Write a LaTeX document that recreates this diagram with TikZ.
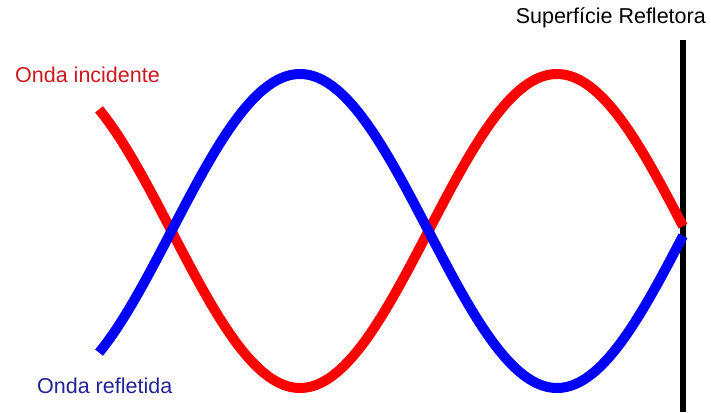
\documentclass[tikz,border=0pt]{standalone}
\usepackage{fontspec}
\setmainfont{Liberation Sans}

\definecolor{incred}{RGB}{205,25,30}
\definecolor{refblue}{RGB}{35,35,150}

\begin{document}
\begin{tikzpicture}[x=1pt,y=-1pt,
    wave/.style={line width=10pt},
    label/.style={font=\fontsize{21.5}{24}\selectfont, inner sep=0pt, anchor=west}]
    \useasboundingbox (0,0) rectangle (711,412);

    % Draw the reflecting surface
    \draw[line width=6pt] (683,40) -- (683,412);
    \node[label, anchor=east] (surface) at (706,18) {Superf\'icie Refletora};

    % Draw the incident and reflected waves
    \draw[wave, red] plot[domain=99:683, samples=120, smooth]
        (\x, {231 - 157*cos(0.7004*(\x-557))});
    \draw[wave, blue] plot[domain=99:683, samples=120, smooth]
        (\x, {231 + 157*cos(0.7004*(\x-557))});

    % Label the waves
    \node[label, text=incred] (incident) at (15,75) {Onda incidente};
    \node[label, text=refblue] (reflected) at (37,386) {Onda refletida};
\end{tikzpicture}
\end{document}
